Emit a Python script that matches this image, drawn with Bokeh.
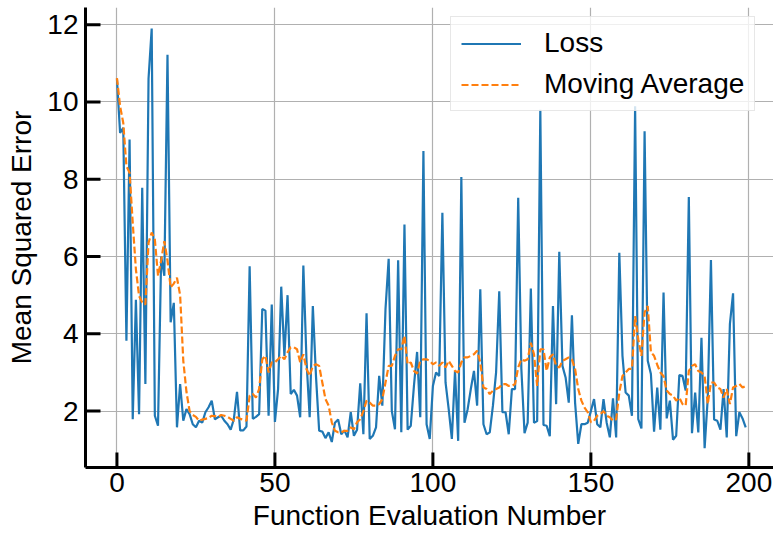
from bokeh.plotting import figure
from bokeh.models import Range1d, FixedTicker, Legend, LegendItem
from bokeh.embed import file_html
from bokeh.resources import INLINE

evaluations = list(range(200))

loss = [
    10.6, 9.2, 9.33, 3.82, 9.03, 1.79, 4.88, 1.92, 7.78, 2.7,
    10.6, 11.9, 1.88, 1.62, 6.0, 5.5, 11.22, 4.3, 4.8, 1.58,
    2.7, 1.75, 2.05, 1.92, 1.66, 1.58, 1.75, 1.7, 1.97, 2.1,
    2.27, 1.79, 1.84, 1.88, 1.75, 1.66, 1.52, 1.79, 2.5, 1.5,
    1.5, 1.6, 5.75, 1.8, 1.85, 1.92, 4.64, 4.6, 1.88, 4.76,
    1.72, 2.57, 5.22, 3.43, 5.0, 2.44, 2.55, 2.4, 1.84, 5.77,
    3.3, 1.84, 4.72, 2.9, 1.49, 1.47, 1.3, 1.45, 1.2, 1.7,
    1.78, 1.4, 1.5, 1.32, 1.97, 1.36, 1.52, 2.72, 1.4, 4.53,
    1.28, 1.36, 1.58, 2.91, 2.14, 4.64, 5.94, 2.0, 1.53, 5.9,
    1.45, 6.83, 1.52, 1.62, 2.65, 3.53, 1.84, 8.73, 1.66, 1.28,
    2.65, 3.0, 2.91, 7.13, 2.74, 2.05, 1.28, 3.04, 1.23, 8.06,
    1.7, 2.05, 2.57, 3.04, 2.14, 5.15, 1.66, 1.4, 1.45, 2.14,
    3.0, 5.1, 1.97, 1.97, 1.4, 2.57, 2.57, 7.52, 3.09, 1.43,
    1.7, 5.17, 1.7, 1.74, 9.8, 1.64, 1.62, 1.35, 4.72, 2.18,
    6.12, 3.17, 2.87, 2.22, 4.48, 2.22, 1.15, 1.66, 1.66, 1.7,
    2.0, 2.31, 1.66, 1.58, 2.31, 1.7, 1.32, 2.33, 1.32, 6.1,
    3.43, 2.48, 2.4, 1.88, 9.89, 1.79, 1.55, 9.24, 3.3, 2.96,
    1.47, 2.61, 1.52, 5.07, 1.81, 2.27, 1.26, 1.36, 2.93, 2.91,
    2.53, 7.54, 1.43, 2.48, 1.45, 3.9, 1.04, 2.35, 5.91, 1.78,
    1.75, 1.52, 2.57, 1.32, 4.25, 5.05, 1.35, 1.97, 1.81, 1.58,
]

moving_average = [
    10.62, 9.89, 9.46, 8.34, 8.17, 6.87, 5.67, 4.98, 4.81, 4.76,
    6.36, 6.62, 6.44, 5.5, 5.9, 6.4, 5.9, 5.2, 5.3, 5.45,
    5.0, 3.3, 2.5, 2.0, 1.9, 1.85, 1.75, 1.78, 1.8, 1.82,
    1.88, 1.87, 1.85, 1.9, 1.88, 1.85, 1.8, 1.75, 1.84, 1.8,
    1.78, 1.75, 2.4, 2.44, 2.35, 2.57, 3.34, 3.43, 3.0, 3.26,
    3.26, 3.34, 3.43, 3.34, 3.52, 3.65, 3.65, 3.6, 3.26, 3.47,
    3.09, 2.91, 3.17, 3.21, 3.17, 2.74, 2.31, 2.14, 1.71, 1.49,
    1.45, 1.45, 1.49, 1.49, 1.58, 1.53, 1.71, 1.79, 2.0, 2.27,
    2.22, 2.14, 2.14, 2.18, 2.31, 2.74, 3.17, 3.17, 3.43, 3.6,
    3.6, 3.95, 3.21, 3.26, 3.04, 2.97, 3.3, 3.34, 3.34, 3.3,
    3.21, 3.26, 3.17, 3.26, 3.13, 3.3, 3.17, 3.04, 3.0, 3.26,
    3.39, 3.39, 3.43, 3.47, 3.56, 3.26, 2.61, 2.57, 2.44, 2.53,
    2.57, 2.61, 2.7, 2.7, 2.65, 2.65, 2.7, 3.13, 3.34, 3.3,
    3.34, 3.77, 3.47, 2.65, 3.6, 3.6, 3.04, 3.39, 3.47, 3.17,
    3.13, 3.3, 3.34, 3.39, 3.34, 3.09, 2.57, 2.27, 2.09, 1.97,
    1.71, 1.75, 1.88, 1.92, 2.0, 1.88, 1.84, 1.75, 1.79, 2.48,
    2.91, 3.0, 3.09, 3.09, 4.46, 3.86, 3.43, 4.55, 4.72, 3.52,
    3.43, 3.2, 3.0, 2.9, 2.53, 2.44, 2.4, 2.27, 2.35, 2.18,
    2.14, 3.04, 3.17, 3.21, 3.04, 3.0, 2.91, 2.18, 2.74, 2.74,
    2.61, 2.57, 2.35, 2.57, 2.18, 2.61, 2.65, 2.7, 2.61, 2.65,
]

x_ticks = [0, 50, 100, 150, 200]
y_ticks = [2, 4, 6, 8, 10, 12]
series_labels = ["Loss", "Moving Average"]

FONT = "Liberation Sans"
FS = "28px"

W, H = 773, 533
BL, BR, BT, BB = 85, 0, 7, 64
X0, X1 = -9.95, 207.8
Y0, Y1 = 0.54, 12.445

p = figure(
    width=W, height=H,
    output_backend="svg", toolbar_location=None,
    x_range=Range1d(X0, X1), y_range=Range1d(Y0, Y1),
    min_border_left=BL, min_border_right=BR, min_border_top=BT, min_border_bottom=BB,
)
p.outline_line_color = None
p.background_fill_color = "white"
p.border_fill_color = "white"

r_loss = p.line(evaluations, loss, line_color="#1f77b4", line_width=2.2)
r_ma = p.line(evaluations, moving_average, line_color="#ff7f0e", line_width=2.2, line_dash="7 3")

# inward tick marks (15 px long), converted from pixels to data units
tick_px = 15
dy = tick_px * (Y1 - Y0) / (H - BT - BB)
dx = tick_px * (X1 - X0) / (W - BL - BR)
p.segment(x0=x_ticks, y0=[Y0] * len(x_ticks), x1=x_ticks, y1=[Y0 + dy] * len(x_ticks),
          line_color="black", line_width=3)
p.segment(x0=[X0] * len(y_ticks), y0=y_ticks, x1=[X0 + dx] * len(y_ticks), y1=y_ticks,
          line_color="black", line_width=3)

for ax in (p.xaxis[0], p.yaxis[0]):
    ax.axis_line_color = "black"
    ax.axis_line_width = 3
    ax.major_tick_line_color = None
    ax.major_tick_in = 0
    ax.major_tick_out = 0
    ax.minor_tick_line_color = None
    ax.major_label_text_font = FONT
    ax.major_label_text_font_size = FS
    ax.major_label_text_color = "black"
    ax.axis_label_text_font = FONT
    ax.axis_label_text_font_size = FS
    ax.axis_label_text_font_style = "normal"
    ax.axis_label_text_color = "black"

p.xaxis[0].ticker = FixedTicker(ticks=x_ticks)
p.yaxis[0].ticker = FixedTicker(ticks=y_ticks)
p.xaxis[0].axis_label = "Function Evaluation Number"
p.yaxis[0].axis_label = "Mean Squared Error"
p.xaxis[0].major_label_standoff = 5
p.xaxis[0].axis_label_standoff = 5
p.yaxis[0].major_label_standoff = 7
p.yaxis[0].axis_label_standoff = 7

for g in (p.xgrid[0], p.ygrid[0]):
    g.grid_line_color = "#b0b0b0"
    g.grid_line_width = 1.2

legend = Legend(
    items=[LegendItem(label=series_labels[0], renderers=[r_loss]),
           LegendItem(label=series_labels[1], renderers=[r_ma])],
    location=(365, 356),
    label_text_font=FONT, label_text_font_size=FS, label_text_color="black",
    glyph_width=60, glyph_height=31, label_height=31, label_standoff=23,
    spacing=9, padding=10, margin=0,
    border_line_color="#d0d0d0", border_line_width=1.2,
    background_fill_color="white", background_fill_alpha=0.8,
)
p.add_layout(legend)

open("out.html", "w").write(file_html(p, INLINE))
